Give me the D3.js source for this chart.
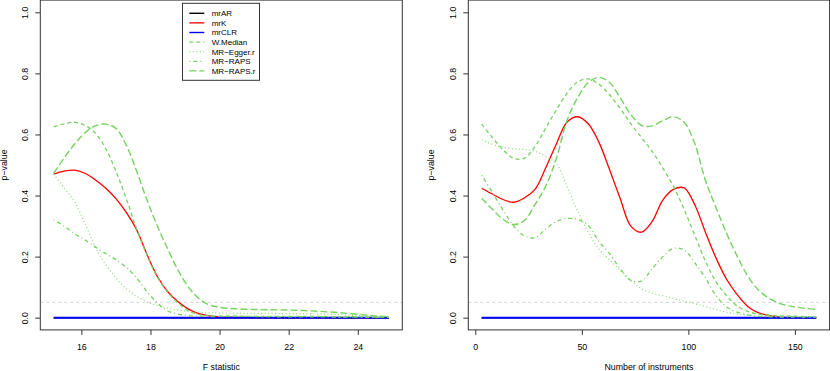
<!DOCTYPE html>
<html>
<head>
<meta charset="utf-8">
<script src="https://cdn.jsdelivr.net/npm/d3@7"></script>
<style>
  body { margin: 0; background: #fff; }
  svg { display: block; font-family: "Liberation Sans", Arial, sans-serif; }
</style>
</head>
<body>
<svg id="graph"></svg>
<script>
var w = 830, h = 371

// left panel: p-value against F statistic
var fStat = [15.2, 15.5, 15.8, 16.1, 16.4, 16.7, 17.0, 17.3, 17.6, 17.9, 18.2, 18.5, 18.8, 19.1,
             19.4, 19.7, 20.0, 20.5, 21, 21.5, 22, 22.5, 23, 23.5, 24, 24.5, 24.9]
var fAR     = [0, 0, 0, 0, 0, 0, 0, 0, 0, 0, 0, 0, 0, 0, 0, 0, 0, 0, 0, 0, 0, 0, 0, 0, 0, 0, 0]
var fK      = [0.47, 0.48, 0.483, 0.473, 0.452, 0.425, 0.39, 0.345, 0.288, 0.207, 0.135, 0.085, 0.052, 0.028,
               0.013, 0.006, 0.003, 0.001, 0, 0, 0, 0, 0, 0, 0, 0, 0]
var fCLR    = [0, 0, 0, 0, 0, 0, 0, 0, 0, 0, 0, 0, 0, 0, 0, 0, 0, 0, 0, 0, 0, 0, 0, 0, 0, 0, 0]
var fMedian = [0.625, 0.635, 0.64, 0.63, 0.605, 0.555, 0.48, 0.39, 0.29, 0.205, 0.133, 0.083, 0.048, 0.022,
               0.01, 0.006, 0.005, 0.005, 0.004, 0.004, 0.004, 0.004, 0.004, 0.003, 0.003, 0.002, 0.001]
var fEgger  = [0.47, 0.425, 0.38, 0.31, 0.232, 0.175, 0.13, 0.095, 0.07, 0.052, 0.04, 0.031, 0.025, 0.021,
               0.018, 0.016, 0.015, 0.015, 0.014, 0.014, 0.013, 0.013, 0.012, 0.01, 0.007, 0.004, 0.002]
var fRaps   = [0.32, 0.3, 0.275, 0.255, 0.232, 0.21, 0.19, 0.165, 0.13, 0.085, 0.048, 0.022, 0.012, 0.007,
               0.005, 0.004, 0.004, 0.004, 0.004, 0.003, 0.003, 0.003, 0.003, 0.002, 0.002, 0.001, 0.001]
var fRapsR  = [0.473, 0.523, 0.568, 0.605, 0.628, 0.634, 0.62, 0.565, 0.48, 0.385, 0.3, 0.225, 0.155, 0.1,
               0.063, 0.042, 0.034, 0.029, 0.027, 0.026, 0.025, 0.023, 0.02, 0.016, 0.011, 0.006, 0.003]

// right panel: p-value against number of instruments
var nInst = [3, 8, 13, 18, 23, 28, 33, 38, 43, 48, 53, 58, 63, 68, 73, 78, 83, 88, 93, 98,
             103, 108, 113, 118, 123, 128, 133, 138, 143, 148, 153, 160]
var nAR     = [0, 0, 0, 0, 0, 0, 0, 0, 0, 0, 0, 0, 0, 0, 0, 0, 0, 0, 0, 0, 0, 0, 0, 0, 0, 0, 0, 0, 0, 0, 0, 0]
var nK      = [0.424, 0.405, 0.387, 0.378, 0.392, 0.42, 0.49, 0.568, 0.64, 0.658, 0.635, 0.575, 0.485, 0.39,
               0.3, 0.28, 0.315, 0.385, 0.42, 0.425, 0.37, 0.28, 0.195, 0.125, 0.075, 0.036, 0.016, 0.007,
               0.002, 0.001, 0, 0]
var nCLR    = [0, 0, 0, 0, 0, 0, 0, 0, 0, 0, 0, 0, 0, 0, 0, 0, 0, 0, 0, 0, 0, 0, 0, 0, 0, 0, 0, 0, 0, 0, 0, 0]
var nMedian = [0.634, 0.59, 0.55, 0.522, 0.522, 0.56, 0.62, 0.68, 0.735, 0.772, 0.782, 0.765, 0.73, 0.685,
               0.635, 0.59, 0.545, 0.49, 0.43, 0.355, 0.27, 0.185, 0.117, 0.072, 0.038, 0.02, 0.012, 0.008,
               0.006, 0.005, 0.004, 0.003]
var nEgger  = [0.582, 0.568, 0.558, 0.553, 0.551, 0.545, 0.528, 0.505, 0.43, 0.35, 0.28, 0.225, 0.19, 0.155,
               0.122, 0.095, 0.08, 0.072, 0.063, 0.054, 0.046, 0.036, 0.026, 0.018, 0.012, 0.009, 0.006, 0.005,
               0.004, 0.004, 0.003, 0.003]
var nRaps   = [0.467, 0.41, 0.353, 0.3, 0.268, 0.262, 0.29, 0.315, 0.325, 0.322, 0.302, 0.25, 0.21, 0.16,
               0.122, 0.12, 0.16, 0.2, 0.227, 0.222, 0.18, 0.13, 0.072, 0.035, 0.018, 0.009, 0.004, 0.003,
               0.002, 0.002, 0.002, 0.002]
var nRapsR  = [0.391, 0.355, 0.322, 0.305, 0.318, 0.37, 0.43, 0.52, 0.645, 0.72, 0.77, 0.787, 0.77, 0.72,
               0.665, 0.63, 0.628, 0.645, 0.658, 0.64, 0.57, 0.45, 0.36, 0.275, 0.2, 0.135, 0.09, 0.063,
               0.046, 0.038, 0.032, 0.027]

var legendLabels = ['mrAR', 'mrK', 'mrCLR', 'W.Median', 'MR\u2212Egger.r', 'MR\u2212RAPS', 'MR\u2212RAPS.r']
var pTicks = [0, 0.2, 0.4, 0.6, 0.8, 1.0]
var fTicks = [16, 18, 20, 22, 24]
var nTicks = [0, 50, 100, 150]

var green = '#74d35e'
var styles = [
  {color: '#000', width: 1.4, dash: null},
  {color: '#ff0000', width: 1.3, dash: null},
  {color: '#0000ff', width: 2, dash: null},
  {color: green, width: 1.3, dash: '4,3'},
  {color: '#8fdc7c', width: 1.3, dash: '1,2.5'},
  {color: green, width: 1.3, dash: '1,3,4,3'},
  {color: green, width: 1.4, dash: '7,3'}
]

var svg = d3.select('#graph').attr('width', w).attr('height', h)

var y = d3.scaleLinear().domain([-0.04, 1.04]).range([329.9, 0.1])

function ext(xs){
  var lo = d3.min(xs), hi = d3.max(xs), pad = (hi - lo) * 0.04
  return [lo - pad, hi + pad]
}

function panel(xs, series, ticks, left, right, xTitle, yTitleX){
  var x = d3.scaleLinear().domain(ext(xs)).range([left, right])
  var g = svg.append('g')

  // threshold at 0.05
  g.append('line')
      .attr('x1', left).attr('x2', right)
      .attr('y1', y(0.05)).attr('y2', y(0.05))
      .style('stroke', '#c8c8c8').style('stroke-width', 0.8).style('stroke-dasharray', '3,3')

  var line = d3.line()
      .x(function(d, i){ return x(xs[i]) })
      .y(function(d){ return y(d) })
      .curve(d3.curveCatmullRom.alpha(0.5))

  series.forEach(function(s, i){
    g.append('path')
        .attr('d', line(s))
        .style('fill', 'none')
        .style('stroke', styles[i].color)
        .style('stroke-width', styles[i].width)
        .style('stroke-dasharray', styles[i].dash)
  })

  g.append('rect')
      .attr('x', left).attr('y', 0.1)
      .attr('width', right - left).attr('height', 329.8)
      .style('fill', 'none').style('stroke', '#333').style('stroke-width', 1)

  var xa = g.append('g')
      .attr('transform', 'translate(0,329.9)')
      .call(d3.axisBottom(x).tickValues(ticks).tickSize(5).tickSizeOuter(0).tickFormat(d3.format('d')))
  xa.select('.domain').remove()
  xa.selectAll('line').style('stroke', '#333')
  xa.selectAll('text').attr('y', 20).attr('dy', 0)
      .style('font-size', '8.8px').style('fill', '#000')

  var ya = g.append('g')
      .attr('transform', 'translate(' + left + ',0)')
      .call(d3.axisLeft(y).tickValues(pTicks).tickSize(5).tickSizeOuter(0).tickFormat(d3.format('.1f')))
  ya.select('.domain').remove()
  ya.selectAll('line').style('stroke', '#333')
  ya.selectAll('text')
      .attr('x', 0).attr('dy', 0)
      .attr('transform', 'translate(-12.2,0) rotate(-90)')
      .style('text-anchor', 'middle')
      .style('font-size', '8.8px').style('fill', '#000')

  g.append('text')
      .attr('x', (left + right) / 2).attr('y', 369.5)
      .style('text-anchor', 'middle').style('font-size', '8.8px').style('fill', '#000')
      .text(xTitle)

  g.append('text')
      .attr('transform', 'translate(' + yTitleX + ',165) rotate(-90)')
      .style('text-anchor', 'middle').style('font-size', '8.8px').style('fill', '#000')
      .text('p\u2212value')
}

panel(fStat, [fAR, fK, fCLR, fMedian, fEgger, fRaps, fRapsR], fTicks, 40.3, 402.3, 'F statistic', 6.8)
panel(nInst, [nAR, nK, nCLR, nMedian, nEgger, nRaps, nRapsR], nTicks, 468.3, 829.6, 'Number of instruments', 433.8)

// legend in the left panel
var lg = svg.append('g')
lg.append('rect')
    .attr('x', 182.5).attr('y', 3.3).attr('width', 77).attr('height', 77)
    .style('fill', '#fff').style('stroke', '#333').style('stroke-width', 1)

legendLabels.forEach(function(name, i){
  var cy = 13.3 + i * 9.6
  lg.append('line')
      .attr('x1', 189.3).attr('x2', 204.3).attr('y1', cy).attr('y2', cy)
      .style('stroke', styles[i].color)
      .style('stroke-width', Math.min(styles[i].width, 1.4))
      .style('stroke-dasharray', styles[i].dash)
  lg.append('text')
      .attr('x', 211.7).attr('y', cy + 2.8)
      .style('font-size', '8px').style('fill', '#000')
      .text(name)
})
</script>
</body>
</html>
